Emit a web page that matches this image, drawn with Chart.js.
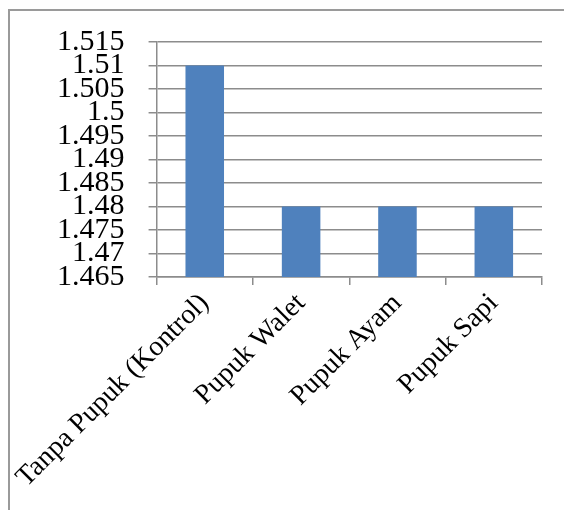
<!DOCTYPE html>
<html>
<head>
<meta charset="utf-8">
<script src="https://cdn.jsdelivr.net/npm/chart.js@4/dist/chart.umd.min.js"></script>
<style>
html,body{margin:0;padding:0;background:#fff;}
#wrap{position:relative;width:564px;height:510px;}
</style>
</head>
<body>
<div id="wrap"><canvas id="c" width="564" height="510"></canvas></div>
<script>
const categories = ["Tanpa Pupuk (Kontrol)", "Pupuk Walet", "Pupuk Ayam", "Pupuk Sapi"];
const values = [1.51, 1.48, 1.48, 1.48];
const yTicks = [1.465, 1.47, 1.475, 1.48, 1.485, 1.49, 1.495, 1.5, 1.505, 1.51, 1.515];
const yTickLabels = ["1.465", "1.47", "1.475", "1.48", "1.485", "1.49", "1.495", "1.5", "1.505", "1.51", "1.515"];

const frame = {
  id: 'frame',
  beforeDraw(chart) {
    const ctx = chart.ctx;
    ctx.save();
    ctx.fillStyle = '#fff';
    ctx.fillRect(0, 0, chart.width, chart.height);
    ctx.strokeStyle = '#9a9a9a';
    ctx.lineWidth = 2;
    ctx.beginPath();
    ctx.moveTo(9, 510);
    ctx.lineTo(9, 10);
    ctx.lineTo(564, 10);
    ctx.stroke();
    ctx.restore();
  }
};

new Chart(document.getElementById('c'), {
  type: 'bar',
  data: {
    labels: categories,
    datasets: [{
      data: values,
      backgroundColor: '#4F81BD',
      borderWidth: 0,
      barPercentage: 0.4,
      categoryPercentage: 1
    }]
  },
  options: {
    responsive: false,
    animation: false,
    devicePixelRatio: 1,
    layout: { padding: { left: 0, right: 22, top: 41, bottom: 0 } },
    plugins: { legend: { display: false }, tooltip: { enabled: false } },
    scales: {
      x: {
        grid: { display: true, drawOnChartArea: false, drawTicks: true, tickLength: 8, color: '#8c8c8c', lineWidth: 1.5, offset: true },
        border: { display: true, color: '#8c8c8c', width: 1.5 },
        ticks: {
          color: '#000',
          font: { family: '"Liberation Serif", "Times New Roman", serif', size: 28 },
          minRotation: 45, maxRotation: 45, autoSkip: false, padding: 2
        },
        afterFit(axis) { axis.height = 233; }
      },
      y: {
        min: 1.465, max: 1.515,
        afterBuildTicks(axis) { axis.ticks = yTicks.map(v => ({ value: v })); },
        grid: { color: '#8c8c8c', lineWidth: 1.5, tickLength: 8, drawTicks: true },
        border: { display: true, color: '#8c8c8c', width: 1.5 },
        ticks: {
          color: '#000',
          autoSkip: false,
          padding: 24,
          font: { family: '"Liberation Serif", "Times New Roman", serif', size: 30 },
          callback(value, index) { return yTickLabels[index]; }
        },
        afterFit(axis) { axis.width = 155; }
      }
    }
  },
  plugins: [frame]
});
</script>
</body>
</html>
